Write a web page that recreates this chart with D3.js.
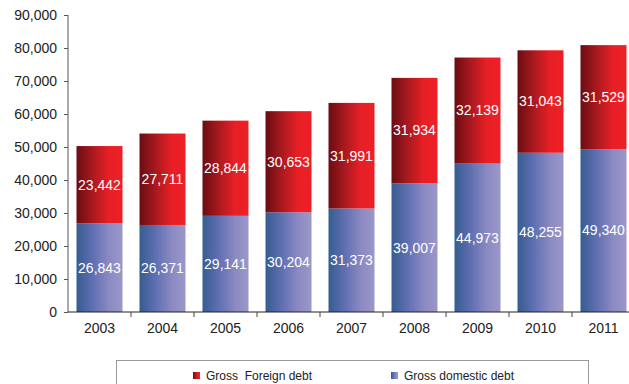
<!DOCTYPE html>
<html>
<head>
<meta charset="utf-8">
<script src="https://cdn.jsdelivr.net/npm/d3@7"></script>
<style>
  html, body { margin: 0; padding: 0; background: #fff; }
  svg { display: block; font-family: "Liberation Sans", Arial, sans-serif; }
</style>
</head>
<body>
<svg id="chart" width="629" height="384"></svg>
<script>
// Gross debt by year, split into domestic and foreign components
const years = ["2003", "2004", "2005", "2006", "2007", "2008", "2009", "2010", "2011"];
const domesticDebt = [26843, 26371, 29141, 30204, 31373, 39007, 44973, 48255, 49340];
const foreignDebt = [23442, 27711, 28844, 30653, 31991, 31934, 32139, 31043, 31529];
const yTicks = [0, 10000, 20000, 30000, 40000, 50000, 60000, 70000, 80000, 90000];
const seriesNames = ["Gross  Foreign debt", "Gross domestic debt"];

const svg = d3.select("#chart");
const fmt = d3.format(",");

const x = d3.scaleBand().domain(years).range([68, 635]).paddingInner(0.27).paddingOuter(0.135);
const y = d3.scaleLinear().domain([0, 90000]).range([312, 15]);

// Horizontal gradients for the two series
const defs = svg.append("defs");
const redGrad = defs.append("linearGradient").attr("id", "gradForeign");
redGrad.append("stop").attr("offset", "0%").attr("stop-color", "#6a0d12");
redGrad.append("stop").attr("offset", "35%").attr("stop-color", "#a8191f");
redGrad.append("stop").attr("offset", "70%").attr("stop-color", "#e81f26");
redGrad.append("stop").attr("offset", "100%").attr("stop-color", "#ee2027");
const blueGrad = defs.append("linearGradient").attr("id", "gradDomestic");
blueGrad.append("stop").attr("offset", "0%").attr("stop-color", "#365c90");
blueGrad.append("stop").attr("offset", "35%").attr("stop-color", "#5f6fb2");
blueGrad.append("stop").attr("offset", "70%").attr("stop-color", "#8a89c2");
blueGrad.append("stop").attr("offset", "100%").attr("stop-color", "#9b97c9");

const rows = years.map((yr, i) => ({ year: yr, dom: domesticDebt[i], fgn: foreignDebt[i] }));

// Domestic segment (bottom)
svg.append("g").selectAll("rect").data(rows).join("rect")
  .attr("x", d => x(d.year))
  .attr("width", x.bandwidth())
  .attr("y", d => y(d.dom))
  .attr("height", d => y(0) - y(d.dom))
  .attr("fill", "url(#gradDomestic)");

// Foreign segment (stacked on top)
svg.append("g").selectAll("rect").data(rows).join("rect")
  .attr("x", d => x(d.year))
  .attr("width", x.bandwidth())
  .attr("y", d => y(d.dom + d.fgn))
  .attr("height", d => y(d.dom) - y(d.dom + d.fgn))
  .attr("fill", "url(#gradForeign)");

// Value labels
const labels = svg.append("g").attr("fill", "#fff").attr("font-size", 14).attr("text-anchor", "middle");
labels.selectAll("text.dom").data(rows).join("text").attr("class", "dom")
  .attr("x", d => x(d.year) + x.bandwidth() / 2)
  .attr("y", d => (y(0) + y(d.dom)) / 2)
  .attr("dy", "0.35em")
  .text(d => fmt(d.dom));
labels.selectAll("text.fgn").data(rows).join("text").attr("class", "fgn")
  .attr("x", d => x(d.year) + x.bandwidth() / 2)
  .attr("y", d => (y(d.dom) + y(d.dom + d.fgn)) / 2)
  .attr("dy", "0.35em")
  .text(d => fmt(d.fgn));

// Y axis
const yAxis = svg.append("g").attr("transform", "translate(68,0)")
  .call(d3.axisLeft(y).tickValues(yTicks).tickFormat(fmt).tickSize(4).tickPadding(7));
yAxis.select(".domain").attr("stroke", "#555").attr("d", "M0,15V312");
yAxis.selectAll(".tick line").attr("stroke", "#555");
yAxis.selectAll("text").attr("font-size", 14).attr("fill", "#222").attr("font-family", "Liberation Sans, Arial, sans-serif");

// X axis with ticks between categories
const xAxis = svg.append("g").attr("transform", "translate(0,312)");
xAxis.append("line").attr("x1", 68).attr("x2", 629).attr("y1", 0).attr("y2", 0).attr("stroke", "#222");
const bounds = years.map(yr => x(yr) - x.step() * x.paddingInner() / 2).concat([x(years[years.length - 1]) + x.bandwidth() + x.step() * x.paddingInner() / 2]);
xAxis.selectAll("line.tk").data(bounds.slice(1)).join("line").attr("class", "tk")
  .attr("x1", d => d).attr("x2", d => d).attr("y1", 0).attr("y2", 5).attr("stroke", "#444");
xAxis.selectAll("text").data(years).join("text")
  .attr("x", d => x(d) + x.bandwidth() / 2)
  .attr("y", 21)
  .attr("text-anchor", "middle")
  .attr("font-size", 14)
  .attr("fill", "#222")
  .text(d => d);

// Legend
const legend = svg.append("g");
legend.append("rect").attr("x", 116.5).attr("y", 360.5).attr("width", 472).attr("height", 30)
  .attr("fill", "#fff").attr("stroke", "#999");
const legendItems = [
  { name: seriesNames[0], fill: "url(#gradForeign)", x: 193 },
  { name: seriesNames[1], fill: "url(#gradDomestic)", x: 391 }
];
const li = legend.selectAll("g.item").data(legendItems).join("g").attr("class", "item")
  .attr("transform", d => `translate(${d.x},372)`);
li.append("rect").attr("width", 7).attr("height", 7).attr("fill", d => d.fill);
li.append("text").attr("x", 13).attr("y", 4).attr("dy", "0.35em").attr("font-size", 12).attr("fill", "#222")
  .attr("xml:space", "preserve").style("white-space", "pre")
  .text(d => d.name);
</script>
</body>
</html>
